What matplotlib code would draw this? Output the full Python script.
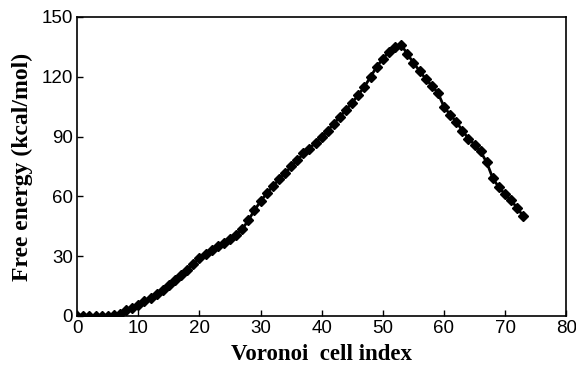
import matplotlib.pyplot as plt

# Voronoi cell index and free energy (kcal/mol)
cell_index = list(range(0, 74))
free_energy = [0, 0, 0, 0, 0, 0, 0.3, 1.2, 3, 4,              # 0-9
               5.5, 7.5, 9, 11, 13, 15.5, 18, 20.5, 23, 26,   # 10-19
               29, 31, 33, 35, 36.5, 38.5, 40.5, 43.5, 48, 53,  # 20-29
               57.5, 61.5, 65, 68.5, 71.5, 75, 78, 81.5, 84, 87,  # 30-39
               90, 93, 96.5, 100, 103.5, 107, 111, 115, 120, 125,  # 40-49
               129, 132.5, 135, 136, 131.5, 127, 123, 119, 115.5, 112,  # 50-59
               105, 101, 97.5, 93, 89, 86, 82.5, 77, 69, 64.5,  # 60-69
               61, 58, 54, 50]                                # 70-73

fig = plt.figure(figsize=(5.76, 3.77), dpi=100)
ax = fig.add_axes([0.134, 0.162, 0.849, 0.793])

ax.plot(cell_index, free_energy, color='black', lw=2,
        marker='D', markersize=5, markerfacecolor='black',
        markeredgecolor='black')

ax.set_xlim(0, 80)
ax.set_ylim(0, 150)
ax.set_xticks(range(0, 81, 10))
ax.set_yticks(range(0, 151, 30))
ax.tick_params(direction='in', length=4, width=1, labelsize=13.5, pad=3)
for lab in ax.get_xticklabels() + ax.get_yticklabels():
    lab.set_family('Liberation Sans')
for sp in ax.spines.values():
    sp.set_linewidth(1.2)

ax.set_xlabel('Voronoi  cell index', family='Liberation Serif',
              fontweight='bold', fontsize=16.5, labelpad=5)
ax.set_ylabel('Free energy (kcal/mol)', family='Liberation Serif',
              fontweight='bold', fontsize=17, labelpad=6)

plt.savefig('out.png', dpi=100)
